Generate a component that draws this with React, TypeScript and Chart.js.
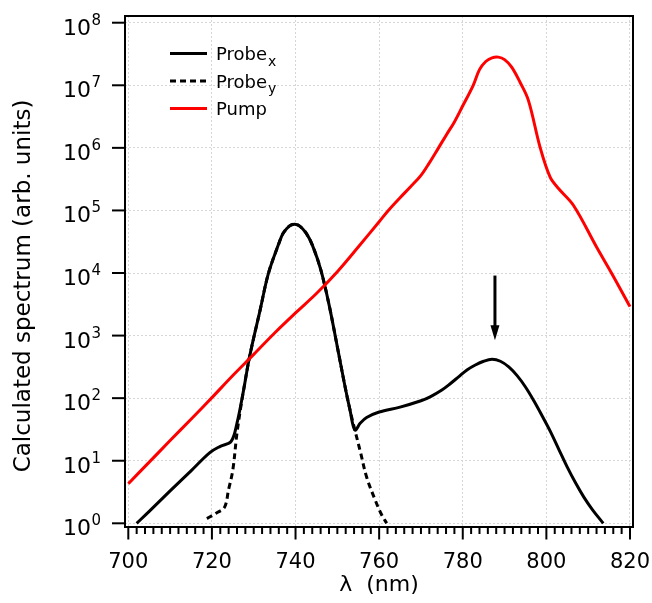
import React, { useEffect, useRef } from "react";
import { Chart, registerables } from "chart.js";

Chart.register(...registerables);

// ---------- data ----------
const pumpLambda = [700, 705, 710, 715, 720, 725, 730, 735, 740, 745, 750, 755, 760, 762.2, 765, 767.4, 770, 772, 774.2, 776, 778, 780, 782.5, 784, 785.5, 787, 788.5, 790, 791.7, 793.7, 795.7, 798.5, 800.9, 802.9, 806.5, 812, 816, 820];
const pumpValues = [4.3, 9.5, 21, 46, 102, 230, 500, 1100, 2300, 4700, 10500, 26000, 66000, 1.0e5, 1.6e5, 2.35e5, 3.63e5, 5.75e5, 1.0e6, 1.58e6, 2.6e6, 4.7e6, 1.0e7, 1.78e7, 2.4e7, 2.75e7, 2.82e7, 2.57e7, 1.95e7, 1.12e7, 5.75e6, 1.02e6, 3.4e5, 2.24e5, 1.2e5, 2.6e4, 8900, 2900];

const probeXLambda = [702, 705, 710, 715, 719.5, 722, 724.6, 726, 727.5, 729, 731.5, 733.5, 736, 737, 738.5, 739.8, 741, 742.5, 744, 746, 748, 750, 751.8, 753, 754.2, 755.5, 757, 760, 765, 770, 772.2, 775, 777, 779, 781, 783, 785, 787, 789, 791, 793, 795, 797, 799, 801, 803, 805, 807, 809, 811, 813.6];
const probeXValues = [1.0, 1.55, 3.3, 6.9, 13.5, 17, 20.4, 40, 126, 457, 2510, 9770, 29500, 42700, 56200, 60300, 56200, 43700, 28200, 11500, 3160, 660, 158, 66, 30.9, 40, 49, 60, 72, 91, 105, 135, 170, 219, 282, 339, 389, 417, 389, 316, 229, 151, 91, 52, 29, 15.1, 7.9, 4.4, 2.6, 1.66, 1.0];

const probeYLambda = [718.8, 721, 723, 724, 725, 726, 727, 727.5, 729, 731.5, 733.5, 736, 737, 738.5, 739.8, 741, 742.5, 744, 746, 748, 750, 751.8, 753, 754.2, 755.5, 757, 759, 760.5, 761.8];
const probeYValues = [1.19, 1.45, 1.8, 3.5, 7.1, 28, 79, 126, 457, 2510, 9770, 29500, 42700, 56200, 60300, 56200, 43700, 28200, 11500, 3160, 660, 158, 66, 30.9, 14, 5.5, 2.4, 1.41, 1.0];

const xMajorTicks = [700, 720, 740, 760, 780, 800, 820];
const xMinorStep = 2;
const yExponents = [0, 1, 2, 3, 4, 5, 6, 7, 8];

const legendMain = ["Probe", "Probe", "Pump"];
const legendSub = ["x", "y", ""];
const legendColors = ["#000000", "#000000", "#ff0000"];
const legendDashed = [false, true, false];

const xTitle = "λ  (nm)";
const yTitle = "Calculated spectrum (arb. units)";

const arrowLambda = 787.7;
const arrowTop = 9100;
const arrowTip = 840;

const FONT = '"DejaVu Sans", sans-serif';

const toPoints = (xs: number[], ys: number[]) => xs.map((x, i) => ({ x, y: ys[i] }));

const decorPlugin = {
  id: "decor",
  afterDraw(chart: any) {
    const { ctx, chartArea: a } = chart;
    const xs = chart.scales.x;
    const ys = chart.scales.y;
    ctx.save();
    // frame
    ctx.strokeStyle = "#000";
    ctx.lineWidth = 2;
    ctx.setLineDash([]);
    ctx.strokeRect(a.left, a.top, a.right - a.left, a.bottom - a.top);

    // x ticks (major + minor) and labels
    ctx.lineWidth = 2;
    ctx.fillStyle = "#000";
    ctx.font = `21px ${FONT}`;
    ctx.textAlign = "center";
    ctx.textBaseline = "alphabetic";
    const first = xMajorTicks[0];
    const last = xMajorTicks[xMajorTicks.length - 1];
    for (let v = first; v <= last; v += xMinorStep) {
      const px = xs.getPixelForValue(v);
      const major = xMajorTicks.includes(v);
      ctx.beginPath();
      ctx.moveTo(px, a.bottom);
      ctx.lineTo(px, a.bottom + (major ? 12.5 : 7));
      ctx.stroke();
      if (major) ctx.fillText(String(v), px, 568);
    }

    // y ticks + labels
    for (const e of yExponents) {
      const py = ys.getPixelForValue(Math.pow(10, e));
      ctx.beginPath();
      ctx.moveTo(a.left - 13, py);
      ctx.lineTo(a.left, py);
      ctx.stroke();
      ctx.textAlign = "left";
      ctx.textBaseline = "alphabetic";
      ctx.font = `15px ${FONT}`;
      const sup = String(e);
      const supW = ctx.measureText(sup).width;
      const supX = a.left - 24 - supW;
      ctx.fillText(sup, supX, py + 2);
      ctx.font = `22px ${FONT}`;
      ctx.textAlign = "right";
      ctx.fillText("10", supX - 0.5, py + 12);
    }

    // axis titles
    ctx.font = `22px ${FONT}`;
    ctx.textAlign = "center";
    ctx.textBaseline = "alphabetic";
    ctx.fillText(xTitle, (a.left + a.right) / 2, 591);
    ctx.save();
    ctx.translate(30, 286);
    ctx.rotate(-Math.PI / 2);
    ctx.font = `23px ${FONT}`;
    ctx.fillText(yTitle, 0, 0);
    ctx.restore();

    // legend
    for (let i = 0; i < legendMain.length; i++) {
      const ly = a.top + 37.5 + i * 27.5;
      ctx.strokeStyle = legendColors[i];
      ctx.lineWidth = 3;
      ctx.setLineDash(legendDashed[i] ? [6, 4] : []);
      ctx.beginPath();
      ctx.moveTo(a.left + 45, ly);
      ctx.lineTo(a.left + 82, ly);
      ctx.stroke();
      ctx.setLineDash([]);
      ctx.fillStyle = "#000";
      ctx.textAlign = "left";
      ctx.font = `18px ${FONT}`;
      const tx = a.left + 91;
      ctx.fillText(legendMain[i], tx, ly + 6.5);
      if (legendSub[i]) {
        const w = ctx.measureText(legendMain[i]).width;
        ctx.font = `14px ${FONT}`;
        ctx.fillText(legendSub[i], tx + w + 1, ly + 12);
      }
    }

    // arrow
    const ax = xs.getPixelForValue(arrowLambda);
    const y1 = ys.getPixelForValue(arrowTop);
    const y2 = ys.getPixelForValue(arrowTip);
    ctx.strokeStyle = "#000";
    ctx.fillStyle = "#000";
    ctx.lineWidth = 3;
    ctx.beginPath();
    ctx.moveTo(ax, y1);
    ctx.lineTo(ax, y2 - 12);
    ctx.stroke();
    ctx.beginPath();
    ctx.moveTo(ax - 4.5, y2 - 15);
    ctx.lineTo(ax + 4.5, y2 - 15);
    ctx.lineTo(ax, y2);
    ctx.closePath();
    ctx.fill();
    ctx.restore();
  },
};

export default function App() {
  const canvasRef = useRef<HTMLCanvasElement | null>(null);

  useEffect(() => {
    if (!canvasRef.current) return;
    const lineCommon = {
      borderWidth: 3,
      pointRadius: 0,
      fill: false,
      tension: 0.35,
      borderCapStyle: "butt",
      borderJoinStyle: "round",
    };
    const chart = new Chart(canvasRef.current, {
      type: "line",
      data: {
        datasets: [
          {
            ...lineCommon,
            label: "Pump",
            data: toPoints(pumpLambda, pumpValues),
            borderColor: "#ff0000",
          },
          {
            ...lineCommon,
            label: "Probe_y",
            data: toPoints(probeYLambda, probeYValues),
            borderColor: "#000000",
            borderDash: [6, 4],
          },
          {
            ...lineCommon,
            label: "Probe_x",
            data: toPoints(probeXLambda, probeXValues),
            borderColor: "#000000",
          },
        ],
      },
      options: {
        responsive: false,
        animation: false,
        devicePixelRatio: 1,
        layout: { padding: { top: 16, right: 19, left: 0, bottom: 0 } },
        plugins: { legend: { display: false }, tooltip: { enabled: false } },
        scales: {
          x: {
            type: "linear",
            min: 699.21,
            max: 820.72,
            afterBuildTicks: (s: any) => {
              s.ticks = xMajorTicks.map((v) => ({ value: v }));
            },
            afterFit: (s: any) => {
              s.height = 76;
            },
            ticks: { display: false },
            grid: { color: "#d6d6d6", lineWidth: 1, drawTicks: false },
            border: { display: false, dash: [2, 2] },
          },
          y: {
            type: "logarithmic",
            min: 0.873,
            max: 1.28e8,
            afterBuildTicks: (s: any) => {
              s.ticks = yExponents.map((e) => ({ value: Math.pow(10, e) }));
            },
            afterFit: (s: any) => {
              s.width = 125;
            },
            ticks: { display: false },
            grid: { color: "#d6d6d6", lineWidth: 1, drawTicks: false },
            border: { display: false, dash: [2, 2] },
          },
        },
      },
      plugins: [decorPlugin],
    } as any);
    return () => chart.destroy();
  }, []);

  return (
    <div style={{ position: "fixed", left: 0, top: 0, width: 652, height: 603, background: "#fff" }}>
      <canvas ref={canvasRef} width={652} height={603} />
    </div>
  );
}
